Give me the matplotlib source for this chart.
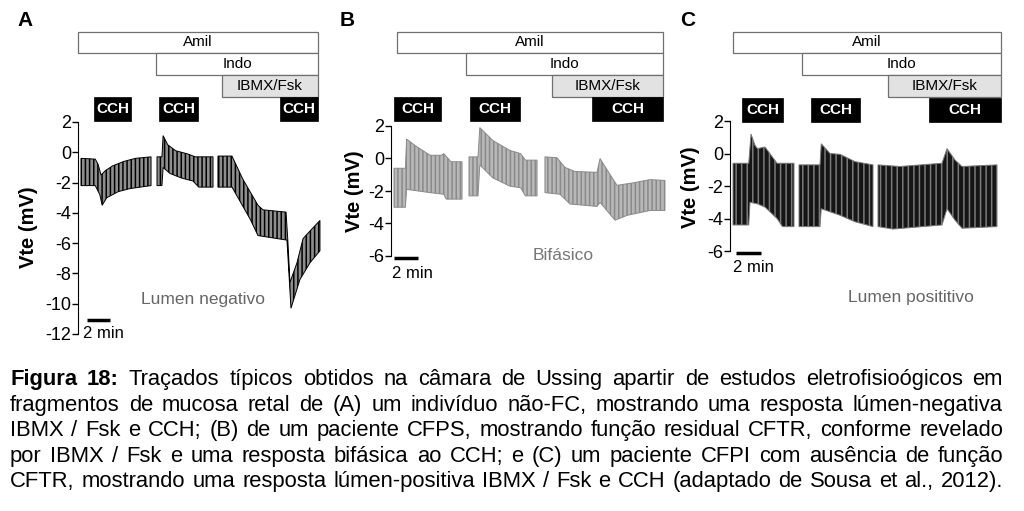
import numpy as np
import matplotlib.pyplot as plt
from matplotlib.transforms import blended_transform_factory

plt.rcParams['font.family'] = ['Liberation Sans', 'DejaVu Sans']
plt.rcParams['hatch.linewidth'] = 1.1
plt.rcParams['axes.unicode_minus'] = False

W, H = 1024, 511

# ---------------- data: Vte traces (time in min, voltage in mV) ----------------
# panel A - non-CF, lumen negative
a1_t_up = [0.26, 1.5, 1.75, 2.0, 2.4, 3.0, 4.0, 5.0, 6.35]
a1_v_up = [-0.4, -0.45, -0.8, -1.5, -1.2, -0.9, -0.6, -0.4, -0.3]
a1_t_lo = [0.26, 1.5, 1.9, 2.1, 2.5, 3.5, 4.5, 6.35]
a1_v_lo = [-2.2, -2.2, -2.8, -3.5, -3.0, -2.6, -2.4, -2.2]
a2_t_up = [6.87, 7.3, 7.4, 7.8, 8.5, 9.5, 10.2, 11.74]
a2_v_up = [-0.3, -0.3, 1.1, 0.5, 0.1, -0.1, -0.3, -0.3]
a2_t_lo = [6.87, 7.3, 7.4, 8.0, 9.0, 10.0, 10.5, 11.74]
a2_v_lo = [-2.2, -2.2, -1.0, -1.4, -1.7, -1.9, -2.3, -2.3]
a3_t_up = [12.17, 13.39, 14.35, 15.65, 16.09, 18.09, 18.26, 18.43, 19.04, 19.57, 20.17, 21.04]
a3_v_up = [-0.25, -0.25, -1.8, -3.5, -3.8, -3.95, -6.0, -8.6, -7.3, -5.7, -5.2, -4.5]
a3_t_lo = [12.17, 13.39, 14.96, 15.65, 18.17, 18.52, 19.3, 20.17, 21.04]
a3_v_lo = [-2.3, -2.3, -4.4, -5.5, -5.8, -10.3, -8.4, -7.3, -6.5]

# panel B - CFPS, biphasic
b1_t_up = [0.25, 1.2, 1.3, 2.0, 3.25, 4.2, 4.4, 5.0, 5.92]
b1_v_up = [-0.6, -0.6, 1.2, 0.8, 0.2, 0.2, 0.3, -0.2, -0.2]
b1_t_lo = [0.25, 1.2, 1.3, 3.25, 4.4, 4.6, 5.92]
b1_v_lo = [-3.0, -3.0, -1.9, -2.1, -2.2, -2.5, -2.5]
b2_t_up = [6.5, 7.25, 7.4, 8.5, 9.9, 10.8, 11.2, 12.17]
b2_v_up = [0.1, 0.1, 1.9, 1.1, 0.5, 0.3, -0.1, -0.1]
b2_t_lo = [6.5, 7.25, 7.4, 8.5, 9.9, 10.8, 11.2, 12.17]
b2_v_lo = [-2.3, -2.3, -0.4, -1.2, -1.7, -1.8, -2.3, -2.3]
b3_t_up = [12.83, 13.83, 14.5, 15.33, 17.17, 17.42, 17.67, 18.83, 20.17, 21.58, 22.83]
b3_v_up = [0.1, 0.05, -0.55, -0.8, -0.85, 0.0, -0.3, -1.65, -1.5, -1.3, -1.35]
b3_t_lo = [12.83, 14.08, 14.92, 17.17, 17.42, 18.67, 19.67, 21.58, 22.83]
b3_v_lo = [-2.1, -2.2, -2.8, -2.95, -2.7, -3.8, -3.5, -3.2, -3.2]

# panel C - CFPI, lumen positive
c1_t_up = [0.24, 1.5, 1.68, 2.0, 2.2, 2.8, 3.76, 5.12]
c1_v_up = [-0.6, -0.6, 1.2, 0.5, 0.3, 0.4, -0.6, -0.6]
c1_t_lo = [0.24, 1.5, 1.6, 2.2, 2.8, 3.76, 4.2, 5.12]
c1_v_lo = [-4.4, -4.4, -3.0, -3.1, -3.3, -4.0, -4.5, -4.5]
c2_t_up = [5.52, 7.2, 7.3, 8.0, 8.8, 10.0, 11.44]
c2_v_up = [-0.7, -0.7, 0.6, 0.0, -0.05, -0.5, -0.7]
c2_t_lo = [5.52, 7.2, 7.3, 8.8, 10.0, 11.44]
c2_v_lo = [-4.5, -4.5, -3.4, -3.8, -4.2, -4.5]
c3_t_up = [11.84, 13.6, 16.96, 17.36, 18.0, 18.56, 21.36]
c3_v_up = [-0.7, -0.8, -0.6, 0.3, -0.4, -0.8, -0.7]
c3_t_lo = [11.84, 13.04, 16.96, 17.36, 18.0, 18.56, 21.36]
c3_v_lo = [-4.5, -4.65, -4.4, -3.4, -4.1, -4.6, -4.5]

# treatment periods (min)
a_amil, a_indo, a_ibmx = (0.0, 20.87), (6.78, 20.87), (12.52, 20.87)
a_cch = [(1.39, 4.61), (7.04, 10.43), (17.57, 20.87)]
b_amil, b_indo, b_ibmx = (0.5, 22.67), (6.25, 22.67), (13.42, 22.67)
b_cch = [(0.25, 4.17), (6.58, 10.75), (16.75, 22.67)]
c_amil, c_indo, c_ibmx = (0.24, 21.68), (5.76, 21.68), (12.64, 21.68)
c_cch = [(0.96, 4.24), (6.48, 10.4), (15.92, 21.68)]

a_ticks = [2, 0, -2, -4, -6, -8, -10, -12]
bc_ticks = [2, 0, -2, -4, -6]

caption = [
    "Figura 18: Traçados típicos obtidos na câmara de Ussing apartir de estudos eletrofisioógicos em",
    "fragmentos de mucosa retal  de (A) um indivíduo não-FC, mostrando uma resposta lúmen-negativa",
    "IBMX / Fsk e CCH; (B) de um paciente CFPS, mostrando função residual CFTR, conforme revelado",
    "por IBMX / Fsk e uma resposta bifásica ao CCH; e (C) um paciente CFPI com ausência de função",
    "CFTR, mostrando uma resposta lúmen-positiva IBMX / Fsk e CCH (adaptado de Sousa et al., 2012).",
]

fig = plt.figure(figsize=(W / 100, H / 100), dpi=100)


def fy(y):
    return 1 - y / H


def make_axes(left, top, bottom, xmax, ylim, ticks, xpix_per_min):
    ax = fig.add_axes([left / W, fy(bottom), xmax * xpix_per_min / W, (bottom - top) / H])
    ax.set_xlim(0, xmax)
    ax.set_ylim(*ylim)
    for s in ['top', 'right', 'bottom']:
        ax.spines[s].set_visible(False)
    ax.spines['left'].set_bounds(ylim[0], ylim[1])
    ax.set_xticks([])
    ax.set_yticks(ticks)
    ax.tick_params(axis='y', length=4, width=1, labelsize=13, pad=1)
    ax.patch.set_alpha(0)
    return ax


def draw_trace(ax, segs, face, hatch_col, hatch):
    for t_up, v_up, t_lo, v_lo in segs:
        xs = np.concatenate([t_up, t_lo[::-1]])
        ys = np.concatenate([v_up, v_lo[::-1]])
        ax.fill(xs, ys, facecolor=face, edgecolor=hatch_col, hatch=hatch, linewidth=0.7)


def draw_bars(ax, amil, indo, ibmx, cch, cch_rows):
    tr = blended_transform_factory(ax.transData, fig.transFigure)
    rows = [(amil, 'Amil', 32, 53, 'white'), (indo, 'Indo', 53, 75, 'white'),
            (ibmx, 'IBMX/Fsk', 75, 97, '#e2e2e2')]
    for (x0, x1), name, y0, y1, col in rows:
        ax.add_patch(plt.Rectangle((x0, fy(y1)), x1 - x0, (y1 - y0) / H, transform=tr,
                                   facecolor=col, edgecolor='#707070', lw=0.9, clip_on=False))
        ax.text((x0 + x1) / 2, fy((y0 + y1) / 2), name, transform=tr, ha='center', va='center',
                fontsize=11)
    y0, y1 = cch_rows
    for x0, x1 in cch:
        ax.add_patch(plt.Rectangle((x0, fy(y1)), x1 - x0, (y1 - y0) / H, transform=tr,
                                   facecolor='black', edgecolor='black', lw=0.5, clip_on=False))
        ax.text((x0 + x1) / 2, fy((y0 + y1) / 2), 'CCH', transform=tr, ha='center', va='center',
                fontsize=11, weight='bold', color='white')


def scale_bar(ax, x0, y, tx, ty):
    ax.plot([x0, x0 + 2], [y, y], color='black', lw=2.5, clip_on=False, solid_capstyle='butt')
    fig.text(tx / W, fy(ty), '2 min', ha='center', va='center', fontsize=12)


# ---------------- panel A ----------------
axA = make_axes(78, 122, 334, 21.5, (-12, 2), a_ticks, 11.5)
draw_trace(axA, [(a1_t_up, a1_v_up, a1_t_lo, a1_v_lo), (a2_t_up, a2_v_up, a2_t_lo, a2_v_lo),
                 (a3_t_up, a3_v_up, a3_t_lo, a3_v_lo)], '#8e8e8e', 'black', '||||')
draw_bars(axA, a_amil, a_indo, a_ibmx, a_cch, (97, 121))
scale_bar(axA, 0.8, -11.1, 103, 333)
fig.text(203 / W, fy(299), 'Lumen negativo', ha='center', va='center', fontsize=12.5, color='#666666')
fig.text(28 / W, fy(227), 'Vte (mV)', rotation=90, ha='center', va='center', fontsize=14.5, weight='bold')
fig.text(25 / W, fy(20), 'A', ha='center', va='center', fontsize=15, weight='bold')

# ---------------- panel B ----------------
axB = make_axes(391, 126, 256, 23.2, (-6, 2), bc_ticks, 12)
draw_trace(axB, [(b1_t_up, b1_v_up, b1_t_lo, b1_v_lo), (b2_t_up, b2_v_up, b2_t_lo, b2_v_lo),
                 (b3_t_up, b3_v_up, b3_t_lo, b3_v_lo)], '#b8b8b8', '#8a8a8a', '||||')
draw_bars(axB, b_amil, b_indo, b_ibmx, b_cch, (97, 121))
scale_bar(axB, 0.25, -6.15, 412, 273)
fig.text(563 / W, fy(256), 'Bifásico', ha='center', va='center', fontsize=12.5, color='#777777')
fig.text(355 / W, fy(191), 'Vte (mV)', rotation=90, ha='center', va='center', fontsize=14.5, weight='bold')
fig.text(347 / W, fy(20), 'B', ha='center', va='center', fontsize=15, weight='bold')

# ---------------- panel C ----------------
axC = make_axes(730, 121, 251, 22.2, (-6, 2), bc_ticks, 12.5)
draw_trace(axC, [(c1_t_up, c1_v_up, c1_t_lo, c1_v_lo), (c2_t_up, c2_v_up, c2_t_lo, c2_v_lo),
                 (c3_t_up, c3_v_up, c3_t_lo, c3_v_lo)], '#151515', '#7a7a7a', '|||')
draw_bars(axC, c_amil, c_indo, c_ibmx, c_cch, (98, 122))
scale_bar(axC, 0.48, -6.1, 753, 268)
fig.text(911 / W, fy(297), 'Lumen posititivo', ha='center', va='center', fontsize=12.5, color='#666666')
fig.text(690 / W, fy(187), 'Vte (mV)', rotation=90, ha='center', va='center', fontsize=14.5, weight='bold')
fig.text(688 / W, fy(20), 'C', ha='center', va='center', fontsize=15, weight='bold')

# ---------------- justified caption ----------------
fig.canvas.draw()
rend = fig.canvas.get_renderer()
x_left, x_right = 10, 1003

# pick a size so the longest line just fits, then stretch spaces on every line
probe = [fig.text(0, 0, ln, fontsize=14) for ln in caption]
longest = max(t.get_window_extent(rend).width for t in probe)
for t in probe:
    t.remove()
cap_fs = 14 * (x_right - x_left - 4) / longest

baselines = [385, 410.5, 436, 461.5, 487]
for i, line in enumerate(caption):
    words = line.split()
    texts = []
    for j, w in enumerate(words):
        bold = (i == 0 and j < 2)
        texts.append(fig.text(0, fy(baselines[i]), w, fontsize=cap_fs, va='baseline',
                              weight='bold' if bold else 'normal'))
    widths = [t.get_window_extent(rend).width for t in texts]
    gap = (x_right - x_left - sum(widths)) / (len(words) - 1)
    x = x_left
    for t, w in zip(texts, widths):
        t.set_x(x / W)
        x += w + gap

fig.savefig('out.png', dpi=100, facecolor='white')
